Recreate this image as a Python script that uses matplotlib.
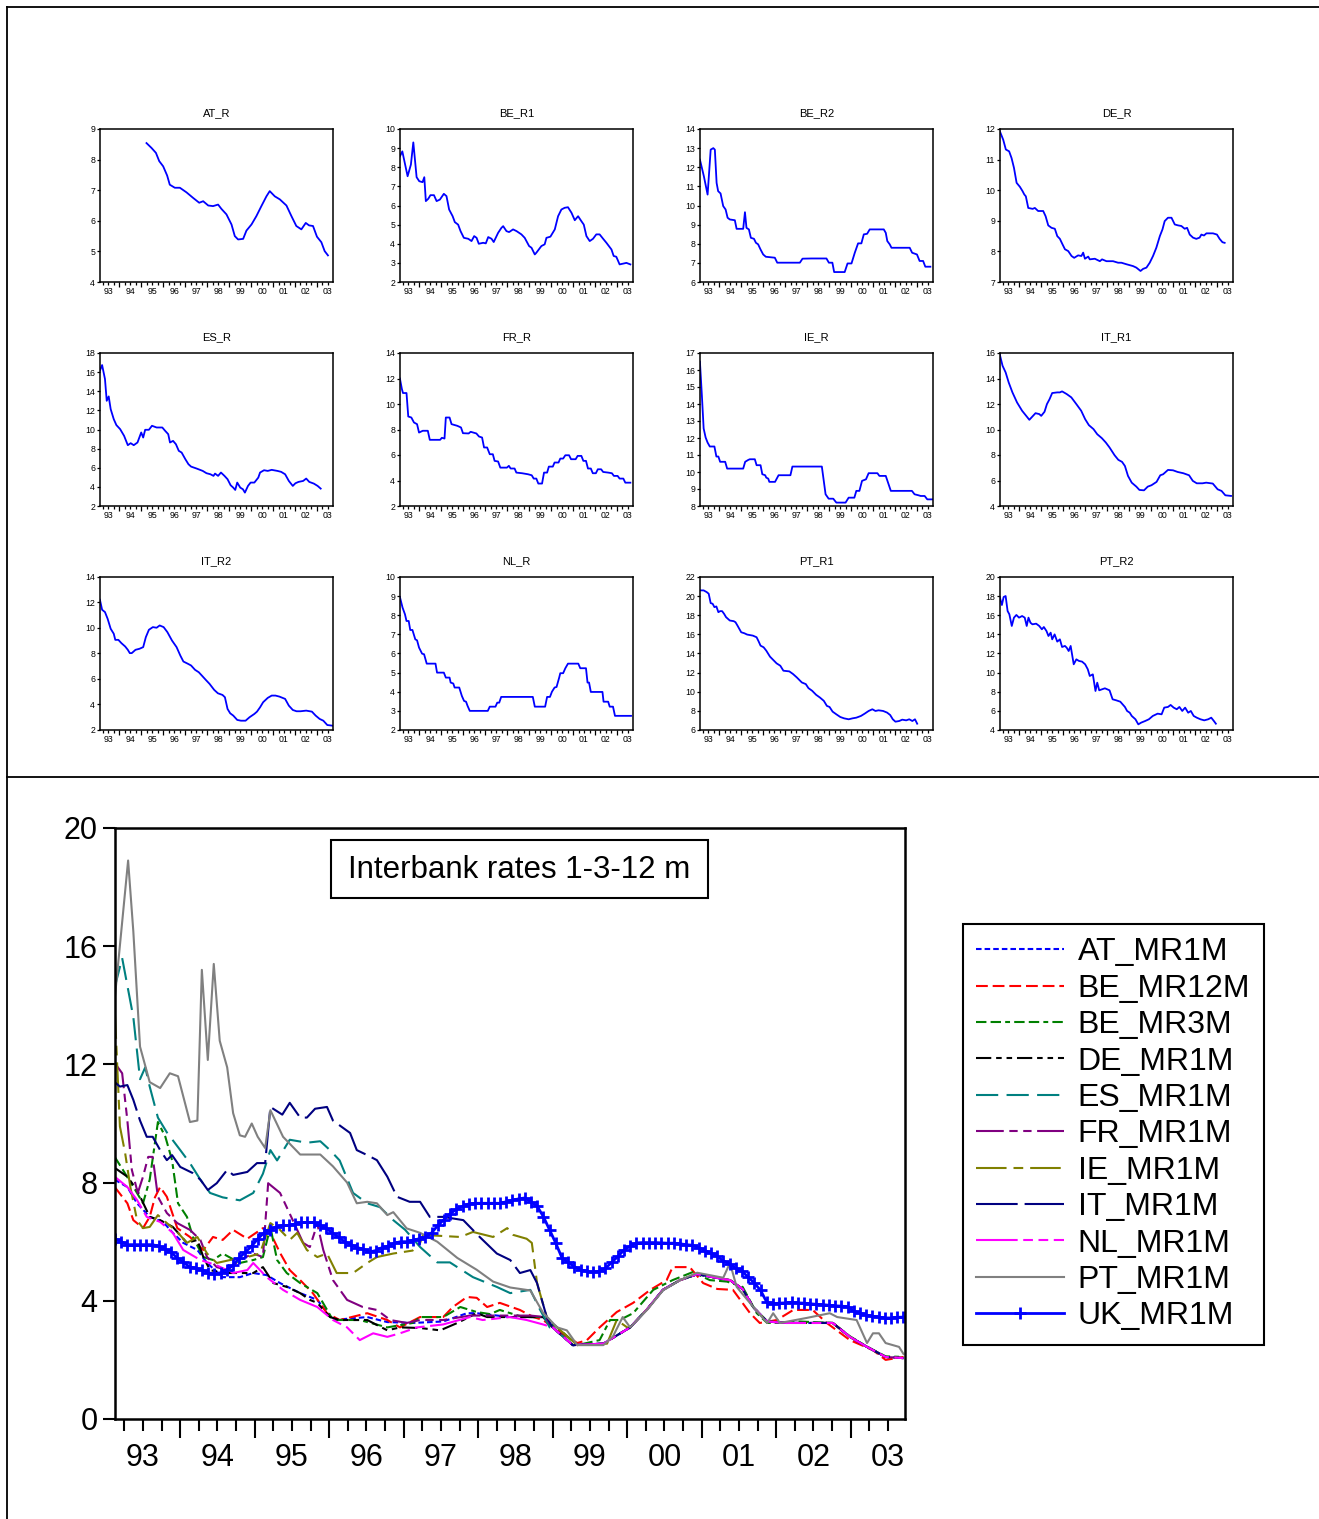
import matplotlib
matplotlib.use("Agg")
import matplotlib.pyplot as plt
from matplotlib import font_manager
from matplotlib.lines import Line2D
from matplotlib.patches import Rectangle
import numpy as np

W, H, DPI = 1319, 1519, 100
avail = {f.name for f in font_manager.fontManager.ttflist}
HAS_NARROW = "Liberation Sans Narrow" in avail
plt.rcParams["font.family"] = ["Liberation Sans", "DejaVu Sans"]
plt.rcParams["lines.scale_dashes"] = False
NARROW = ["Liberation Sans Narrow", "Liberation Sans"] if HAS_NARROW else ["Liberation Sans"]
BIGFS = 26 if HAS_NARROW else 22

# ---------------- data: small panels (date, value) ----------------
AT_R = [(1995.24,8.54),(1995.47,8.38),(1995.67,8.22),(1995.82,7.95),(1996.00,7.78),(1996.18,7.48),(1996.30,7.18),(1996.53,7.08),(1996.76,7.08),(1997.06,6.93),(1997.36,6.75),(1997.64,6.59),(1997.82,6.64),(1998.05,6.50),(1998.27,6.48),(1998.50,6.53),(1998.65,6.39),(1998.88,6.21),(1999.11,5.88),(1999.26,5.50),(1999.41,5.39),(1999.64,5.41),(1999.79,5.68),(2000.02,5.88),(2000.24,6.15),(2000.47,6.48),(2000.70,6.80),(2000.85,6.97),(2001.08,6.80),(2001.31,6.70),(2001.61,6.50),(2001.84,6.15),(2002.06,5.83),(2002.29,5.72),(2002.49,5.93),(2002.64,5.85),(2002.82,5.83),(2003.00,5.48),(2003.20,5.30),(2003.35,5.01),(2003.50,4.87)]
BE_R1 = [(1993.12,8.57),(1993.23,8.83),(1993.47,7.53),(1993.62,8.14),(1993.73,9.30),(1993.88,7.48),(1994.00,7.27),(1994.15,7.22),(1994.23,7.48),(1994.30,6.23),(1994.41,6.35),(1994.51,6.54),(1994.67,6.54),(1994.79,6.23),(1994.94,6.31),(1995.12,6.61),(1995.24,6.49),(1995.36,5.79),(1995.52,5.44),(1995.62,5.13),(1995.77,5.00),(1995.88,4.66),(1996.03,4.31),(1996.23,4.26),(1996.38,4.14),(1996.50,4.40),(1996.61,4.31),(1996.71,4.00),(1996.91,4.05),(1997.03,4.02),(1997.14,4.35),(1997.29,4.26),(1997.39,4.09),(1997.59,4.57),(1997.74,4.83),(1997.82,4.92),(1997.97,4.66),(1998.09,4.61),(1998.27,4.75),(1998.43,4.66),(1998.65,4.49),(1998.80,4.31),(1999.00,3.88),(1999.11,3.79),(1999.26,3.44),(1999.33,3.53),(1999.56,3.88),(1999.71,3.97),(1999.79,4.31),(1999.97,4.37),(2000.17,4.75),(2000.32,5.44),(2000.47,5.79),(2000.62,5.88),(2000.77,5.91),(2000.93,5.62),(2001.08,5.23),(2001.23,5.44),(2001.38,5.18),(2001.49,5.00),(2001.61,4.40),(2001.76,4.14),(2001.91,4.26),(2002.06,4.49),(2002.21,4.49),(2002.37,4.26),(2002.52,4.05),(2002.75,3.70),(2002.85,3.36),(2002.97,3.32),(2003.12,2.92),(2003.28,2.96),(2003.43,3.00),(2003.61,2.92)]
BE_R2 = [(1993.12,12.40),(1993.30,11.53),(1993.47,10.57),(1993.61,12.92),(1993.73,13.00),(1993.80,12.92),(1993.88,11.18),(1993.95,10.75),(1994.06,10.63),(1994.18,9.97),(1994.29,9.79),(1994.38,9.36),(1994.48,9.27),(1994.71,9.23),(1994.79,8.78),(1995.09,8.78),(1995.17,9.65),(1995.24,8.83),(1995.35,8.75),(1995.44,8.31),(1995.58,8.26),(1995.67,8.05),(1995.77,7.97),(1995.88,7.70),(1996.00,7.44),(1996.12,7.32),(1996.53,7.27),(1996.64,7.01),(1997.67,7.01),(1997.79,7.22),(1998.20,7.23),(1998.88,7.23),(1998.99,7.01),(1999.15,7.01),(1999.23,6.52),(1999.71,6.52),(1999.84,6.97),(2000.02,6.97),(2000.17,7.53),(2000.32,8.02),(2000.47,8.02),(2000.58,8.49),(2000.73,8.52),(2000.85,8.75),(2001.49,8.75),(2001.58,8.57),(2001.65,8.14),(2001.76,7.97),(2001.84,7.79),(2002.67,7.79),(2002.78,7.53),(2003.00,7.44),(2003.12,7.10),(2003.28,7.10),(2003.38,6.80),(2003.61,6.80)]
DE_R = [(1993.12,11.92),(1993.27,11.65),(1993.39,11.33),(1993.54,11.27),(1993.65,11.05),(1993.76,10.73),(1993.88,10.24),(1994.03,10.11),(1994.15,9.97),(1994.23,9.86),(1994.30,9.80),(1994.41,9.42),(1994.61,9.39),(1994.71,9.42),(1994.86,9.32),(1995.09,9.32),(1995.20,9.15),(1995.32,8.85),(1995.47,8.77),(1995.62,8.74),(1995.73,8.50),(1995.85,8.41),(1995.97,8.23),(1996.08,8.07),(1996.23,8.01),(1996.38,7.85),(1996.50,7.79),(1996.68,7.87),(1996.83,7.85),(1996.91,7.96),(1996.99,7.76),(1997.14,7.83),(1997.21,7.74),(1997.44,7.76),(1997.67,7.68),(1997.77,7.74),(1997.97,7.68),(1998.27,7.68),(1998.50,7.63),(1998.65,7.63),(1998.88,7.58),(1999.18,7.52),(1999.33,7.47),(1999.52,7.36),(1999.64,7.43),(1999.79,7.47),(1999.94,7.63),(2000.09,7.85),(2000.24,8.12),(2000.40,8.50),(2000.52,8.72),(2000.62,8.99),(2000.77,9.10),(2000.93,9.10),(2001.08,8.88),(2001.23,8.85),(2001.38,8.83),(2001.53,8.74),(2001.64,8.77),(2001.76,8.55),(2001.91,8.45),(2002.06,8.41),(2002.21,8.45),(2002.29,8.55),(2002.41,8.52),(2002.52,8.59),(2002.82,8.59),(2003.00,8.55),(2003.12,8.41),(2003.25,8.30),(2003.35,8.28)]
ES_R = [(1993.12,16.15),(1993.22,16.74),(1993.35,15.28),(1993.43,13.00),(1993.52,13.46),(1993.61,12.13),(1993.75,11.08),(1993.87,10.46),(1994.04,10.04),(1994.22,9.34),(1994.39,8.36),(1994.52,8.57),(1994.66,8.36),(1994.83,8.64),(1995.00,9.69),(1995.09,9.16),(1995.18,9.97),(1995.35,9.97),(1995.49,10.39),(1995.70,10.21),(1995.96,10.21),(1996.09,9.86),(1996.23,9.51),(1996.31,8.64),(1996.45,8.81),(1996.58,8.46),(1996.71,7.77),(1996.84,7.59),(1997.01,6.89),(1997.15,6.37),(1997.27,6.12),(1997.53,5.91),(1997.80,5.67),(1997.97,5.43),(1998.15,5.32),(1998.29,5.15),(1998.36,5.39),(1998.50,5.15),(1998.63,5.50),(1998.79,5.15),(1998.93,4.80),(1999.07,4.17),(1999.19,3.92),(1999.28,3.68),(1999.37,4.45),(1999.51,3.92),(1999.63,3.75),(1999.72,3.40),(1999.86,4.10),(1999.98,4.45),(2000.15,4.45),(2000.33,4.97),(2000.41,5.50),(2000.59,5.74),(2000.76,5.67),(2000.94,5.78),(2001.20,5.67),(2001.37,5.57),(2001.55,5.32),(2001.72,4.62),(2001.90,4.10),(2002.02,4.38),(2002.16,4.52),(2002.37,4.62),(2002.51,4.87),(2002.65,4.52),(2002.86,4.34),(2003.03,4.10),(2003.17,3.82)]
FR_R = [(1993.12,12.00),(1993.21,11.17),(1993.26,10.86),(1993.42,10.86),(1993.50,9.02),(1993.64,8.94),(1993.76,8.55),(1993.90,8.42),(1993.99,7.76),(1994.16,7.90),(1994.39,7.90),(1994.48,7.19),(1994.95,7.19),(1995.03,7.35),(1995.15,7.29),(1995.21,8.94),(1995.38,8.94),(1995.47,8.42),(1995.73,8.29),(1995.90,8.16),(1995.99,7.71),(1996.25,7.69),(1996.34,7.82),(1996.60,7.69),(1996.72,7.45),(1996.86,7.37),(1996.95,6.59),(1997.09,6.59),(1997.21,6.06),(1997.35,6.06),(1997.43,5.54),(1997.59,5.49),(1997.69,5.01),(1997.99,5.01),(1998.08,5.15),(1998.16,4.94),(1998.34,4.94),(1998.42,4.62),(1998.68,4.57),(1998.95,4.49),(1999.12,4.41),(1999.21,4.15),(1999.33,4.15),(1999.42,3.76),(1999.59,3.76),(1999.68,4.62),(1999.82,4.62),(1999.90,5.09),(2000.08,5.09),(2000.16,5.41),(2000.34,5.41),(2000.42,5.72),(2000.55,5.72),(2000.65,5.98),(2000.82,5.98),(2000.91,5.67),(2001.12,5.67),(2001.21,5.93),(2001.38,5.93),(2001.47,5.54),(2001.59,5.54),(2001.68,4.94),(2001.81,4.94),(2001.90,4.57),(2002.04,4.57),(2002.13,4.88),(2002.28,4.88),(2002.37,4.67),(2002.60,4.62),(2002.77,4.57),(2002.86,4.36),(2003.03,4.36),(2003.12,4.15),(2003.29,4.15),(2003.38,3.83),(2003.61,3.83)]
IE_R = [(1993.12,16.49),(1993.21,14.49),(1993.29,12.56),(1993.38,12.03),(1993.47,11.73),(1993.57,11.50),(1993.78,11.50),(1993.87,10.91),(1993.96,10.91),(1994.04,10.60),(1994.27,10.60),(1994.36,10.20),(1995.09,10.20),(1995.18,10.60),(1995.32,10.71),(1995.39,10.75),(1995.62,10.75),(1995.70,10.40),(1995.88,10.40),(1995.96,9.87),(1996.09,9.81),(1996.14,9.67),(1996.23,9.61),(1996.28,9.42),(1996.54,9.42),(1996.70,9.81),(1997.24,9.81),(1997.33,10.32),(1998.67,10.32),(1998.84,8.69),(1998.98,8.43),(1999.19,8.43),(1999.33,8.20),(1999.75,8.20),(1999.89,8.49),(2000.15,8.49),(2000.24,8.89),(2000.38,8.89),(2000.50,9.48),(2000.68,9.57),(2000.80,9.93),(2001.20,9.93),(2001.29,9.77),(2001.58,9.77),(2001.81,8.89),(2002.77,8.89),(2002.89,8.69),(2003.07,8.63),(2003.17,8.59),(2003.35,8.59),(2003.47,8.39),(2003.70,8.39)]
IT_R1 = [(1993.12,15.84),(1993.24,15.00),(1993.38,14.48),(1993.52,13.69),(1993.69,12.91),(1993.90,12.12),(1994.13,11.47),(1994.34,11.02),(1994.46,10.76),(1994.60,11.02),(1994.74,11.28),(1994.91,11.21),(1995.00,11.07),(1995.15,11.39),(1995.26,11.99),(1995.38,12.38),(1995.50,12.86),(1995.73,12.91),(1995.85,12.91),(1995.95,12.99),(1996.16,12.78),(1996.37,12.52),(1996.60,11.99),(1996.82,11.47),(1997.00,10.81),(1997.17,10.34),(1997.38,10.03),(1997.55,9.63),(1997.76,9.32),(1997.94,8.98),(1998.11,8.59),(1998.34,7.98),(1998.51,7.62),(1998.68,7.46),(1998.81,7.14),(1998.95,6.36),(1999.12,5.83),(1999.33,5.52),(1999.47,5.26),(1999.68,5.23),(1999.85,5.52),(2000.02,5.63),(2000.25,5.89),(2000.42,6.41),(2000.55,6.49),(2000.77,6.83),(2001.00,6.80),(2001.21,6.67),(2001.47,6.57),(2001.73,6.41),(2001.90,5.97),(2002.08,5.78),(2002.34,5.78),(2002.51,5.83),(2002.81,5.76),(2003.03,5.31),(2003.21,5.18),(2003.38,4.84),(2003.64,4.79)]
IT_R2 = [(1993.12,12.22),(1993.22,11.43),(1993.35,11.25),(1993.47,10.73),(1993.61,9.94),(1993.75,9.55),(1993.82,9.07),(1993.96,9.07),(1994.10,8.81),(1994.27,8.55),(1994.39,8.29),(1994.48,8.03),(1994.57,8.03),(1994.74,8.29),(1994.92,8.37),(1995.09,8.50),(1995.21,9.28),(1995.35,9.86),(1995.53,10.07),(1995.70,10.02),(1995.84,10.20),(1996.02,10.07),(1996.19,9.68),(1996.40,9.02),(1996.61,8.50),(1996.78,7.84),(1996.92,7.37),(1997.13,7.19),(1997.27,7.06),(1997.45,6.72),(1997.62,6.53),(1997.76,6.27),(1997.94,5.93),(1998.11,5.62),(1998.32,5.15),(1998.49,4.88),(1998.70,4.75),(1998.81,4.57),(1998.93,3.65),(1999.05,3.31),(1999.19,3.13),(1999.37,2.79),(1999.54,2.73),(1999.75,2.73),(1999.93,3.00),(2000.15,3.26),(2000.27,3.44),(2000.41,3.78),(2000.55,4.18),(2000.76,4.52),(2000.94,4.70),(2001.11,4.70),(2001.29,4.62),(2001.55,4.44),(2001.72,3.91),(2001.90,3.57),(2002.07,3.47),(2002.25,3.47),(2002.51,3.52),(2002.77,3.44),(2002.94,3.13),(2003.12,2.87),(2003.29,2.73),(2003.47,2.39),(2003.70,2.34)]
NL_R = [(1993.12,8.95),(1993.24,8.40),(1993.35,8.05),(1993.42,7.70),(1993.52,7.70),(1993.59,7.23),(1993.69,7.23),(1993.82,6.74),(1993.90,6.69),(1993.99,6.31),(1994.13,5.99),(1994.22,5.96),(1994.34,5.47),(1994.74,5.47),(1994.81,5.00),(1995.12,5.00),(1995.21,4.74),(1995.38,4.74),(1995.43,4.48),(1995.55,4.43),(1995.61,4.22),(1995.82,4.22),(1995.94,3.78),(1996.04,3.52),(1996.13,3.48),(1996.20,3.26),(1996.30,3.00),(1997.12,3.00),(1997.21,3.22),(1997.47,3.22),(1997.55,3.43),(1997.64,3.43),(1997.73,3.73),(1999.17,3.73),(1999.26,3.22),(1999.73,3.22),(1999.82,3.73),(1999.95,3.73),(2000.04,4.00),(2000.16,4.22),(2000.25,4.25),(2000.37,4.74),(2000.42,4.97),(2000.55,4.97),(2000.65,5.23),(2000.77,5.47),(2001.24,5.47),(2001.33,5.23),(2001.59,5.23),(2001.66,4.48),(2001.73,4.48),(2001.81,3.99),(2002.34,3.99),(2002.39,3.48),(2002.60,3.48),(2002.67,3.22),(2002.82,3.22),(2002.91,2.74),(2003.64,2.74)]
PT_R1 = [(1993.12,20.60),(1993.29,20.60),(1993.43,20.42),(1993.52,20.25),(1993.61,19.27),(1993.70,19.20),(1993.78,18.85),(1993.87,18.92),(1993.96,18.32),(1994.04,18.43),(1994.13,18.43),(1994.22,18.15),(1994.31,17.80),(1994.48,17.45),(1994.66,17.38),(1994.74,17.27),(1994.83,16.92),(1995.00,16.22),(1995.14,16.12),(1995.27,15.98),(1995.53,15.87),(1995.70,15.70),(1995.79,15.28),(1995.88,14.82),(1996.02,14.65),(1996.14,14.30),(1996.31,13.67),(1996.49,13.25),(1996.61,12.97),(1996.78,12.72),(1996.92,12.20),(1997.19,12.13),(1997.36,11.85),(1997.53,11.50),(1997.76,10.97),(1997.94,10.80),(1998.06,10.38),(1998.23,10.10),(1998.41,9.68),(1998.58,9.40),(1998.76,9.05),(1998.90,8.52),(1999.02,8.41),(1999.16,7.92),(1999.33,7.64),(1999.51,7.36),(1999.68,7.22),(1999.89,7.12),(2000.07,7.22),(2000.24,7.29),(2000.45,7.47),(2000.62,7.71),(2000.80,7.99),(2000.97,8.17),(2001.11,7.99),(2001.25,8.06),(2001.46,7.99),(2001.64,7.82),(2001.78,7.57),(2001.90,7.12),(2002.02,6.87),(2002.19,6.94),(2002.33,7.08),(2002.51,7.01),(2002.65,7.12),(2002.79,6.94),(2002.91,7.12),(2003.01,6.66)]
PT_R2 = [(1993.12,17.84),(1993.21,17.07),(1993.29,17.91),(1993.38,18.01),(1993.47,16.44),(1993.55,16.10),(1993.66,14.88),(1993.76,15.75),(1993.87,16.03),(1993.99,15.75),(1994.13,15.92),(1994.25,15.75),(1994.34,14.88),(1994.42,15.75),(1994.51,15.22),(1994.60,15.05),(1994.77,15.12),(1994.91,14.88),(1995.03,14.53),(1995.12,14.77),(1995.24,14.35),(1995.33,13.83),(1995.43,14.18),(1995.50,13.48),(1995.61,14.00),(1995.73,13.24),(1995.85,13.48),(1995.95,12.68),(1996.08,12.79),(1996.16,12.61),(1996.25,12.26),(1996.34,12.79),(1996.48,10.87),(1996.60,11.39),(1996.72,11.22),(1996.86,11.15),(1997.00,10.87),(1997.12,10.35),(1997.21,9.65),(1997.35,9.82),(1997.47,8.08),(1997.55,8.95),(1997.64,8.15),(1997.76,8.25),(1997.90,8.36),(1998.11,8.15),(1998.25,7.21),(1998.42,7.10),(1998.60,6.96),(1998.81,6.41),(1998.91,5.99),(1999.03,5.81),(1999.12,5.47),(1999.29,5.12),(1999.42,4.59),(1999.55,4.77),(1999.73,4.94),(1999.90,5.12),(2000.08,5.47),(2000.30,5.71),(2000.48,5.64),(2000.60,6.34),(2000.77,6.41),(2000.89,6.62),(2001.03,6.34),(2001.17,6.17),(2001.29,6.41),(2001.42,5.99),(2001.55,6.34),(2001.69,5.81),(2001.81,5.99),(2001.94,5.47),(2002.08,5.29),(2002.25,5.12),(2002.42,5.01),(2002.60,5.12),(2002.74,5.29),(2002.86,4.94),(2002.95,4.66)]

SMALL_TITLES = ["AT_R", "BE_R1", "BE_R2", "DE_R", "ES_R", "FR_R", "IE_R", "IT_R1",
                "IT_R2", "NL_R", "PT_R1", "PT_R2"]
SMALL_DATA = [AT_R, BE_R1, BE_R2, DE_R, ES_R, FR_R, IE_R, IT_R1, IT_R2, NL_R, PT_R1, PT_R2]
SMALL_YMIN = [4, 2, 6, 7, 2, 2, 8, 4, 2, 2, 6, 4]
SMALL_YMAX = [9, 10, 14, 12, 18, 14, 17, 16, 14, 10, 22, 20]
SMALL_YSTEP = [1, 1, 1, 1, 2, 2, 1, 2, 2, 1, 2, 2]

YEARS = list(range(1993, 2004))
YEAR_LABELS = ["93", "94", "95", "96", "97", "98", "99", "00", "01", "02", "03"]

# ---------------- data: big panel ----------------
EURO_TAIL = [(1999.00,3.10),(1999.27,2.50),(1999.68,2.55),(1999.81,2.75),(2000.04,3.10),(2000.27,3.72),(2000.48,4.37),(2000.71,4.70),(2000.94,4.90),(2001.15,4.80),(2001.38,4.70),(2001.55,4.40),(2001.69,3.79),(2001.88,3.30),(2002.14,3.25),(2002.76,3.25),(2002.99,2.78),(2003.22,2.44),(2003.47,2.10),(2003.71,2.06)]
AT_MR1M = [(1993.12,8.10),(1993.29,7.85),(1993.42,7.30),(1993.59,6.84),(1993.77,6.67),(1993.90,6.30),(1994.04,5.96),(1994.23,5.72),(1994.36,5.28),(1994.57,4.80),(1994.80,4.80),(1994.98,4.94),(1995.16,4.87),(1995.34,4.60),(1995.61,4.26),(1995.84,4.03),(1996.05,3.35),(1996.51,3.45),(1996.78,3.28),(1997.12,3.25),(1997.53,3.30),(1997.85,3.58),(1997.98,3.58),(1998.43,3.45),(1998.87,3.45)]
BE_MR12M = [(1993.12,7.85),(1993.29,7.30),(1993.37,6.73),(1993.50,6.46),(1993.59,6.84),(1993.66,7.50),(1993.73,7.85),(1993.82,7.52),(1993.96,6.46),(1994.13,6.16),(1994.31,5.72),(1994.44,6.16),(1994.57,6.06),(1994.71,6.40),(1994.90,6.10),(1995.11,6.46),(1995.21,6.30),(1995.34,5.62),(1995.47,5.04),(1995.61,4.70),(1995.78,4.26),(1995.97,3.58),(1996.14,3.35),(1996.51,3.58),(1996.78,3.35),(1996.95,3.10),(1997.22,3.45),(1997.53,3.45),(1997.66,3.79),(1997.85,4.13),(1997.98,4.10),(1998.12,3.79),(1998.29,3.93),(1998.56,3.69),(1998.74,3.45),(1998.87,3.35),(1999.06,3.00),(1999.33,2.57),(1999.46,2.67),(1999.63,3.10),(1999.86,3.62),(2000.08,3.93),(2000.31,4.37),(2000.53,4.70),(2000.61,5.14),(2000.84,5.14),(2001.02,4.60),(2001.21,4.40),(2001.42,4.37),(2001.65,3.58),(2001.78,3.25),(2002.01,3.35),(2002.23,3.69),(2002.49,3.69),(2002.68,3.25),(2002.99,2.67),(2003.30,2.33),(2003.47,2.00),(2003.71,2.10)]
BE_MR3M = [(1993.12,8.87),(1993.23,8.43),(1993.42,7.65),(1993.50,7.30),(1993.59,8.10),(1993.70,10.05),(1993.80,9.55),(1993.89,8.76),(1993.97,7.30),(1994.09,6.84),(1994.17,6.16),(1994.31,5.48),(1994.44,5.38),(1994.57,5.60),(1994.80,5.28),(1994.98,5.38),(1995.11,5.48),(1995.21,6.50),(1995.30,5.38),(1995.43,4.94),(1995.61,4.60),(1995.84,4.26),(1996.05,3.35),(1996.41,3.35),(1996.78,3.10),(1997.12,3.25),(1997.22,3.45),(1997.53,3.45),(1997.76,3.79),(1997.98,3.62),(1998.16,3.55),(1998.29,3.69),(1998.60,3.45),(1998.87,3.45),(1999.06,3.10),(1999.33,2.50),(1999.63,2.67),(1999.77,3.35),(1999.90,3.35),(2000.08,3.58),(2000.35,4.37),(2000.61,4.70),(2000.88,4.97),(2001.11,4.70),(2001.34,4.65),(2001.55,4.47),(2001.74,3.58),(2001.88,3.25),(2002.32,3.30),(2002.76,3.25),(2002.99,2.80),(2003.22,2.45),(2003.47,2.12),(2003.71,2.10)]
DE_MR1M = [(1993.12,8.50),(1993.29,8.20),(1993.42,7.75),(1993.59,6.84),(1993.73,6.73),(1993.90,6.50),(1994.09,5.96),(1994.23,6.06),(1994.31,5.48),(1994.40,5.04),(1994.57,4.94),(1994.98,4.94),(1995.11,5.14),(1995.25,4.60),(1995.43,4.47),(1995.61,4.26),(1995.74,4.03),(1995.84,3.93),(1996.01,3.45),(1996.14,3.35),(1996.51,3.35),(1996.78,3.00),(1996.95,3.10),(1997.22,3.08),(1997.49,3.00),(1997.72,3.25),(1997.98,3.58),(1998.12,3.45),(1998.43,3.45),(1998.87,3.45)]
ES_MR1M = [(1993.12,14.6),(1993.22,15.6),(1993.37,13.6),(1993.46,11.5),(1993.53,11.9),(1993.59,11.25),(1993.70,10.2),(1993.82,9.7),(1994.00,9.1),(1994.13,8.66),(1994.27,8.1),(1994.40,7.65),(1994.57,7.5),(1994.80,7.4),(1994.98,7.65),(1995.11,8.3),(1995.21,9.1),(1995.30,8.75),(1995.47,9.45),(1995.70,9.35),(1995.88,9.4),(1996.01,9.1),(1996.14,8.75),(1996.32,7.65),(1996.51,7.3),(1996.68,7.17),(1996.86,6.73),(1997.02,6.4),(1997.22,5.82),(1997.45,5.3),(1997.62,5.3),(1997.93,4.8),(1998.25,4.47),(1998.43,4.26),(1998.70,4.37),(1998.83,3.7),(1998.96,3.1)]
FR_MR1M = [(1993.12,12.05),(1993.22,11.70),(1993.29,10.10),(1993.35,8.43),(1993.43,7.65),(1993.50,8.20),(1993.57,8.87),(1993.63,8.87),(1993.70,7.52),(1993.82,6.97),(1993.96,6.63),(1994.13,6.40),(1994.27,6.06),(1994.36,5.48),(1994.49,5.14),(1994.63,5.04),(1994.80,5.38),(1994.98,5.60),(1995.11,5.48),(1995.18,7.98),(1995.34,7.65),(1995.51,6.73),(1995.65,5.96),(1995.74,5.82),(1995.84,6.60),(1995.92,5.72),(1996.05,4.70),(1996.24,4.03),(1996.45,3.79),(1996.64,3.69),(1996.82,3.35),(1997.04,3.25),(1997.22,3.35),(1997.53,3.35),(1997.89,3.50),(1998.29,3.50),(1998.70,3.50),(1998.90,3.45)]
IE_MR1M = [(1993.12,13.9),(1993.19,9.9),(1993.26,9.0),(1993.33,7.85),(1993.42,6.73),(1993.50,6.46),(1993.59,6.5),(1993.70,6.9),(1993.82,6.63),(1993.96,6.33),(1994.09,5.96),(1994.23,6.16),(1994.36,5.6),(1994.49,5.28),(1994.67,5.38),(1994.90,5.48),(1995.07,5.6),(1995.21,6.63),(1995.34,6.4),(1995.47,6.06),(1995.57,6.3),(1995.70,5.72),(1995.84,5.48),(1995.97,5.6),(1996.10,4.94),(1996.32,4.94),(1996.51,5.28),(1996.64,5.48),(1996.86,5.6),(1997.12,5.7),(1997.22,5.96),(1997.26,6.23),(1997.76,6.16),(1997.93,6.33),(1998.20,6.16),(1998.39,6.46),(1998.47,6.23),(1998.65,6.1),(1998.72,5.96),(1998.79,4.6),(1998.92,3.45),(1999.06,3.1),(1999.33,2.5),(1999.73,2.55),(1999.86,3.35),(2000.00,3.1)]
IT_MR1M = [(1993.12,11.40),(1993.19,11.25),(1993.29,11.30),(1993.37,10.80),(1993.46,10.10),(1993.55,9.55),(1993.63,9.55),(1993.73,9.10),(1993.82,8.76),(1993.89,8.93),(1994.00,8.53),(1994.17,8.32),(1994.27,8.10),(1994.37,7.75),(1994.49,7.98),(1994.63,8.43),(1994.71,8.26),(1994.90,8.36),(1995.03,8.66),(1995.14,8.66),(1995.21,10.56),(1995.37,10.30),(1995.47,10.70),(1995.61,10.20),(1995.70,10.20),(1995.81,10.50),(1995.97,10.56),(1996.05,10.10),(1996.28,9.68),(1996.37,9.10),(1996.51,8.93),(1996.64,8.76),(1996.78,8.20),(1996.91,7.52),(1997.08,7.35),(1997.22,7.35),(1997.35,6.84),(1997.53,6.84),(1997.80,6.73),(1998.02,6.16),(1998.25,5.60),(1998.43,5.38),(1998.56,4.94),(1998.70,5.04),(1998.79,4.60),(1998.92,3.45)]
NL_MR1M = [(1993.12,8.20),(1993.29,7.85),(1993.42,7.41),(1993.55,6.84),(1993.73,6.67),(1993.90,6.30),(1994.04,5.72),(1994.27,5.38),(1994.49,5.20),(1994.71,4.94),(1994.90,5.04),(1994.98,5.28),(1995.16,4.80),(1995.38,4.37),(1995.61,4.03),(1995.84,3.79),(1996.05,3.35),(1996.24,3.10),(1996.41,2.67),(1996.59,2.90),(1996.78,2.78),(1996.95,2.90),(1997.18,3.10),(1997.53,3.20),(1997.89,3.45),(1998.06,3.35),(1998.43,3.45),(1998.65,3.35),(1998.87,3.20)]
PT_MR1M = [(1993.12,14.2),(1993.30,18.9),(1993.37,16.5),(1993.46,12.6),(1993.59,11.4),(1993.73,11.2),(1993.86,11.7),(1993.97,11.6),(1994.13,10.05),(1994.23,10.1),(1994.29,15.2),(1994.37,12.15),(1994.45,15.4),(1994.53,12.8),(1994.63,11.9),(1994.71,10.35),(1994.80,9.6),(1994.87,9.55),(1994.96,10.0),(1995.04,9.55),(1995.14,9.17),(1995.21,10.45),(1995.38,9.55),(1995.61,8.95),(1995.88,8.95),(1996.05,8.55),(1996.24,8.0),(1996.37,7.3),(1996.51,7.35),(1996.64,7.3),(1996.78,6.9),(1996.86,7.0),(1997.04,6.45),(1997.22,6.3),(1997.45,6.0),(1997.72,5.45),(1997.98,5.05),(1998.20,4.65),(1998.43,4.45),(1998.70,4.35),(1998.87,3.6),(1999.06,3.1),(1999.19,3.0),(1999.33,2.5),(1999.68,2.5),(1999.81,2.8),(1999.94,3.45),(2000.04,3.1),(2000.27,3.7),(2000.48,4.35),(2000.71,4.7),(2000.94,4.95),(2001.29,4.78),(2001.38,5.28),(2001.47,4.47),(2001.69,3.8),(2001.88,3.25),(2001.96,3.58),(2002.05,3.25),(2002.41,3.42),(2002.72,3.58),(2002.82,3.45),(2003.08,3.35),(2003.22,2.57),(2003.30,2.9),(2003.38,2.9),(2003.47,2.57),(2003.65,2.44),(2003.71,2.2)]
UK_START = (1993, 2)  # monthly, Feb 1993 onwards
UK_MR1M = [6.1, 6.0, 5.9, 5.9, 5.9, 5.9, 5.9, 5.85, 5.75, 5.65, 5.45,
           5.3, 5.15, 5.1, 5.05, 4.95, 4.9, 4.95, 5.05, 5.2, 5.45, 5.65, 5.85,
           6.1, 6.3, 6.4, 6.5, 6.55, 6.55, 6.6, 6.65, 6.65, 6.65, 6.55, 6.45,
           6.3, 6.15, 6.0, 5.9, 5.8, 5.75, 5.65, 5.7, 5.8, 5.85, 5.95, 6.0,
           6.0, 6.05, 6.1, 6.15, 6.3, 6.55, 6.75, 6.95, 7.1, 7.2, 7.28, 7.3,
           7.3, 7.3, 7.3, 7.3, 7.35, 7.4, 7.45, 7.48, 7.35, 7.2, 6.85, 6.4,
           5.95, 5.45, 5.3, 5.15, 5.05, 5.0, 4.97, 5.0, 5.1, 5.3, 5.5, 5.72,
           5.85, 5.96, 5.97, 5.97, 5.97, 5.96, 5.95, 5.95, 5.93, 5.9, 5.88, 5.8,
           5.7, 5.62, 5.5, 5.35, 5.25, 5.1, 5.0, 4.8, 4.6, 4.35, 3.95, 3.9,
           3.92, 3.93, 3.95, 3.93, 3.92, 3.9, 3.88, 3.87, 3.85, 3.83, 3.82, 3.8,
           3.65, 3.58, 3.52, 3.48, 3.45, 3.42, 3.42, 3.44, 3.45]
BIG_NAMES = ["AT_MR1M", "BE_MR12M", "BE_MR3M", "DE_MR1M", "ES_MR1M", "FR_MR1M",
             "IE_MR1M", "IT_MR1M", "NL_MR1M", "PT_MR1M", "UK_MR1M"]
BIG_YTICKS = [0, 4, 8, 12, 16, 20]
TITLE = "Interbank rates 1-3-12 m"

XMIN, XMAX = 1993.124, 2003.73

# ---------------- figure ----------------
fig = plt.figure(figsize=(W / DPI, H / DPI), dpi=DPI)


def rect(l, t, r, b):
    return [l / W, 1 - b / H, (r - l) / W, (b - t) / H]


def fy(y):
    return 1 - y / H


# frame lines
for xs, ys in [((7, W), (7, 7)), ((7, 7), (7, H)), ((7, W), (777, 777))]:
    fig.add_artist(Line2D([x / W for x in xs], [fy(y) for y in ys],
                          transform=fig.transFigure, color="black", lw=1.3))

QUARTERS = [y + q for y in range(1993, 2004) for q in (0.25, 0.5, 0.75)]
YSTARTS = list(range(1994, 2004))


def time_axis(ax, major_len, minor_len, width, label_off, fs, family):
    ax.set_xlim(XMIN, XMAX)
    ax.set_xticks(YSTARTS)
    ax.set_xticks([q for q in QUARTERS if XMIN < q < XMAX], minor=True)
    ax.tick_params(axis="x", which="major", direction="out", length=major_len,
                   width=width, labelbottom=False)
    ax.tick_params(axis="x", which="minor", direction="out", length=minor_len,
                   width=width, labelbottom=False)
    for yr, lab in zip(YEARS, YEAR_LABELS):
        ax.annotate(lab, xy=(yr + 0.5, 0), xycoords=("data", "axes fraction"),
                    xytext=(0, -label_off), textcoords="offset points",
                    ha="center", va="top", fontsize=fs, family=family,
                    annotation_clip=False)


COL_L = [100, 400, 700, 1000]
ROW_T = [129, 353, 577]
for i, (title, ser) in enumerate(zip(SMALL_TITLES, SMALL_DATA)):
    r, c = divmod(i, 4)
    l, t = COL_L[c], ROW_T[r]
    ax = fig.add_axes(rect(l, t, l + 233, t + 153))
    d, v = zip(*ser)
    ax.plot(d, v, color="#0000ff", lw=1.3)
    lo, hi, st = SMALL_YMIN[i], SMALL_YMAX[i], SMALL_YSTEP[i]
    ax.set_ylim(lo, hi)
    ticks = list(range(lo, hi + 1, st))
    ax.set_yticks(ticks)
    ax.set_yticklabels([str(tk) for tk in ticks])
    ax.tick_params(axis="y", direction="out", length=2.5, width=0.9,
                   labelsize=6.3, pad=1)
    time_axis(ax, 3.5, 2.2, 0.9, 3.5, 6.3, ["Liberation Sans"])
    for sp in ax.spines.values():
        sp.set_linewidth(1.1)
    ax.set_title(title, fontsize=8, pad=9)

# big chart
ax = fig.add_axes(rect(115, 828, 905, 1419))
styles = {
    "AT_MR1M": dict(color="#0000ff", dashes=(4.0, 2.2)),
    "BE_MR12M": dict(color="#ff0000", dashes=(8.5, 3.5)),
    "BE_MR3M": dict(color="#008000", dashes=(7.5, 3.0, 7.5, 3.0, 3.5, 3.0)),
    "DE_MR1M": dict(color="#000000", dashes=(11, 3.5, 4, 3.5, 4, 3.5)),
    "ES_MR1M": dict(color="#008080", dashes=(16, 6)),
    "FR_MR1M": dict(color="#800080", dashes=(20, 4, 6, 4, 6, 4)),
    "IE_MR1M": dict(color="#808000", dashes=(22, 5, 7, 5)),
    "IT_MR1M": dict(color="#000080", dashes=(30, 5)),
    "NL_MR1M": dict(color="#ff00ff", dashes=(30, 4, 7, 4, 7, 4)),
    "PT_MR1M": dict(color="#808080"),
}
own_tail = {"AT_MR1M", "DE_MR1M", "ES_MR1M", "FR_MR1M", "IE_MR1M", "IT_MR1M", "NL_MR1M"}
series_map = {"AT_MR1M": AT_MR1M, "BE_MR12M": BE_MR12M, "BE_MR3M": BE_MR3M,
              "DE_MR1M": DE_MR1M, "ES_MR1M": ES_MR1M, "FR_MR1M": FR_MR1M,
              "IE_MR1M": IE_MR1M, "IT_MR1M": IT_MR1M, "NL_MR1M": NL_MR1M,
              "PT_MR1M": PT_MR1M}
handles = []
for name in BIG_NAMES:
    if name == "UK_MR1M":
        y0, m0 = UK_START
        dates = [y0 + (m0 - 1 + k + 0.5) / 12 for k in range(len(UK_MR1M))]
        h, = ax.plot(dates, UK_MR1M, color="#0000ff", lw=2.0, marker="+",
                     ms=8, mew=2.0, label=name)
    else:
        pts = list(series_map[name])
        if name in own_tail:
            last = pts[-1][0]
            pts += [p for p in EURO_TAIL if p[0] > last + 0.02]
        d, v = zip(*pts)
        h, = ax.plot(d, v, lw=1.5, label=name, **styles[name])
    handles.append(h)

ax.set_ylim(0, 20)
ax.set_yticks(BIG_YTICKS)
ax.set_yticklabels([str(t) for t in BIG_YTICKS], family=NARROW, fontsize=BIGFS)
ax.tick_params(axis="y", direction="out", length=8.5, width=1.5, pad=4)
time_axis(ax, 14, 8.5, 1.5, 17, BIGFS, NARROW)
for sp in ax.spines.values():
    sp.set_linewidth(1.8)

# title box
fig.add_artist(Rectangle((331 / W, fy(898)), (708 - 331) / W, (898 - 840) / H,
                         transform=fig.transFigure, fill=True, fc="white",
                         ec="black", lw=1.5))
fig.text(519.5 / W, fy(870), TITLE, ha="center", va="center",
         family=NARROW, fontsize=BIGFS + 0.5)

leg = fig.legend(handles, BIG_NAMES, loc="upper left",
                 bbox_to_anchor=(963 / W, fy(924)), bbox_transform=fig.transFigure,
                 borderaxespad=0, frameon=True, fancybox=False, shadow=False,
                 edgecolor="black", framealpha=1, fontsize=23,
                 handlelength=2.75, handletextpad=0.42, borderpad=0.42,
                 labelspacing=0.2, numpoints=1)
leg.get_frame().set_linewidth(1.5)

fig.savefig("out.png", dpi=DPI)
